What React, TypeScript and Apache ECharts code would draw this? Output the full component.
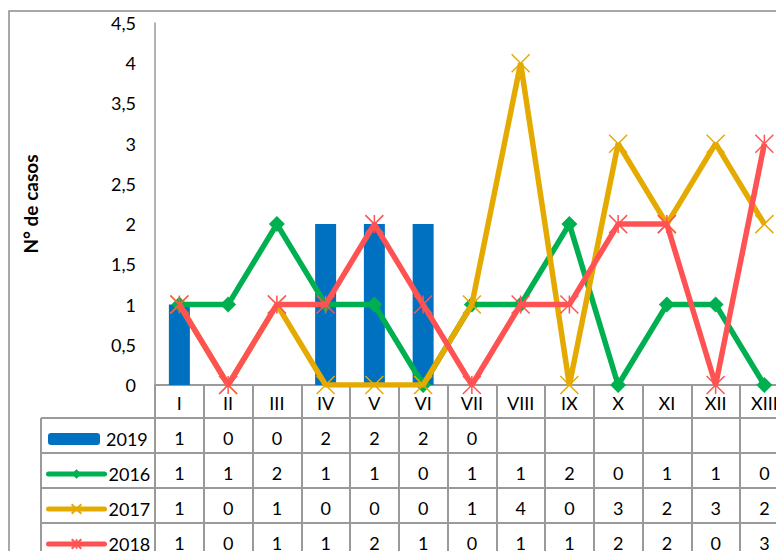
import React, { useEffect, useRef } from "react";
import * as echarts from "echarts";

const categories = ["I", "II", "III", "IV", "V", "VI", "VII", "VIII", "IX", "X", "XI", "XII", "XIII"];
const v2019: (number | null)[] = [1, 0, 0, 2, 2, 2, 0, null, null, null, null, null, null];
const v2016 = [1, 1, 2, 1, 1, 0, 1, 1, 2, 0, 1, 1, 0];
const v2017 = [1, 0, 1, 0, 0, 0, 1, 4, 0, 3, 2, 3, 2];
const v2018 = [1, 0, 1, 1, 2, 1, 0, 1, 1, 2, 2, 0, 3];
const yTicks = { min: 0, max: 4.5, interval: 0.5 };

const FONT = "Lato";
const FS = 18;
const GRAY = "#9a9a9a";
const BLUE = "#0070C0";
const GREEN = "#00B050";
const GOLD = "#E5AA00";
const RED = "#FF5353";

const X_PATH = "path://M0,0L20,20M20,0L0,20";
const STAR_PATH = "path://M0,0L20,20M20,0L0,20M10,0L10,20";

export default function App() {
  const ref = useRef<HTMLDivElement>(null);
  useEffect(() => {
    if (!ref.current) return;
    const chart = echarts.init(ref.current, null, { renderer: "svg" });
    const gridLeft = 155;
    const gridTop = 23;
    const gridH = 362;
    const colW = 48.75;
    const gridW = colW * categories.length;
    const rows = [
      { name: "2019", vals: v2019, off: 53, bar: true },
      { name: "2016", vals: v2016, off: 88, bar: false },
      { name: "2017", vals: v2017, off: 123, bar: false },
      { name: "2018", vals: v2018, off: 158, bar: false },
    ];
    const rowAxes = rows.map((r) => ({
      type: "category",
      gridIndex: 0,
      position: "bottom",
      offset: r.off,
      data: r.vals.map((v) => (v === null ? "" : String(v))),
      axisLine: { show: false },
      axisTick: { show: false },
      axisLabel: { margin: 0, verticalAlign: "middle", fontSize: FS, color: "#000", fontFamily: FONT, interval: 0 },
      splitLine: { show: false },
    }));
    const legends = rows.map((r) => ({
      orient: "horizontal",
      padding: 0,
      left: r.bar ? 48 : 46,
      top: 385 + r.off - 2 - 6,
      itemWidth: r.bar ? 52 : 56,
      itemHeight: 12,
      itemGap: 0,
      selectedMode: false,
      lineStyle: { width: 5, cap: "round" },
      data: [r.name],
      textStyle: { fontSize: FS, color: "#000", fontFamily: FONT, padding: [0, 0, 0, r.bar ? 1 : -1] },
    }));
    const hLines = [418, 453, 488, 523].map((y) => ({
      type: "line",
      shape: { x1: 41, y1: y, x2: 900, y2: y },
      style: { stroke: GRAY, lineWidth: 2 },
      z: 1,
    }));
    chart.setOption({
      animation: false,
      textStyle: { fontFamily: FONT },
      grid: { left: gridLeft, top: gridTop, width: gridW, height: gridH, containLabel: false },
      legend: legends,
      xAxis: [
        {
          type: "category",
          data: categories,
          boundaryGap: true,
          axisLine: { show: true, lineStyle: { color: GRAY, width: 2 } },
          axisTick: { show: true, length: 175, alignWithLabel: false, interval: 0, lineStyle: { color: GRAY, width: 2 } },
          axisLabel: { margin: 18, verticalAlign: "middle", fontSize: FS, color: "#000", fontFamily: FONT, interval: 0 },
          splitLine: { show: false },
        },
        ...rowAxes,
      ],
      yAxis: {
        type: "value",
        min: yTicks.min,
        max: yTicks.max,
        interval: yTicks.interval,
        name: "N° de casos",
        nameLocation: "middle",
        nameGap: 115,
        nameTextStyle: { fontSize: 19, fontWeight: "bold", color: "#000", fontFamily: FONT },
        axisLine: { show: true, lineStyle: { color: GRAY, width: 1.5 } },
        axisTick: { show: false },
        splitLine: { show: false },
        axisLabel: {
          margin: 19,
          fontSize: FS,
          color: "#000",
          fontFamily: FONT,
          formatter: (v: number) => String(v).replace(".", ","),
        },
      },
      graphic: [
        {
          type: "rect",
          shape: { x: 9, y: 11, width: 900, height: 700 },
          style: { fill: "none", stroke: "#8c8c8c", lineWidth: 1.5 },
          z: 0,
        },
        {
          type: "line",
          shape: { x1: 41, y1: 418, x2: 41, y2: 600 },
          style: { stroke: GRAY, lineWidth: 2 },
          z: 1,
        },
        ...hLines,
      ],
      series: [
        {
          name: "2019",
          type: "bar",
          data: v2019,
          barWidth: 21,
          itemStyle: { color: BLUE },
          z: 1,
        },
        {
          name: "2016",
          type: "line",
          data: v2016,
          symbol: "diamond",
          symbolSize: [16, 16],
          lineStyle: { color: GREEN, width: 5.5 },
          itemStyle: { color: GREEN, borderColor: GREEN, borderWidth: 0 },
          z: 2,
        },
        {
          name: "2017",
          type: "line",
          data: v2017,
          symbol: X_PATH,
          symbolSize: 18,
          lineStyle: { color: GOLD, width: 5.5 },
          itemStyle: { color: GOLD, borderColor: GOLD, borderWidth: 1.5 },
          z: 3,
        },
        {
          name: "2018",
          type: "line",
          data: v2018,
          symbol: STAR_PATH,
          symbolSize: 18,
          lineStyle: { color: RED, width: 5.5 },
          itemStyle: { color: RED, borderColor: RED, borderWidth: 1.5 },
          z: 4,
        },
      ],
    });
    return () => chart.dispose();
  }, []);
  return (
    <div style={{ position: "absolute", left: 0, top: 0, width: 776, height: 551, overflow: "hidden", background: "#fff" }}>
      <div ref={ref} style={{ width: 830, height: 600 }} />
    </div>
  );
}
